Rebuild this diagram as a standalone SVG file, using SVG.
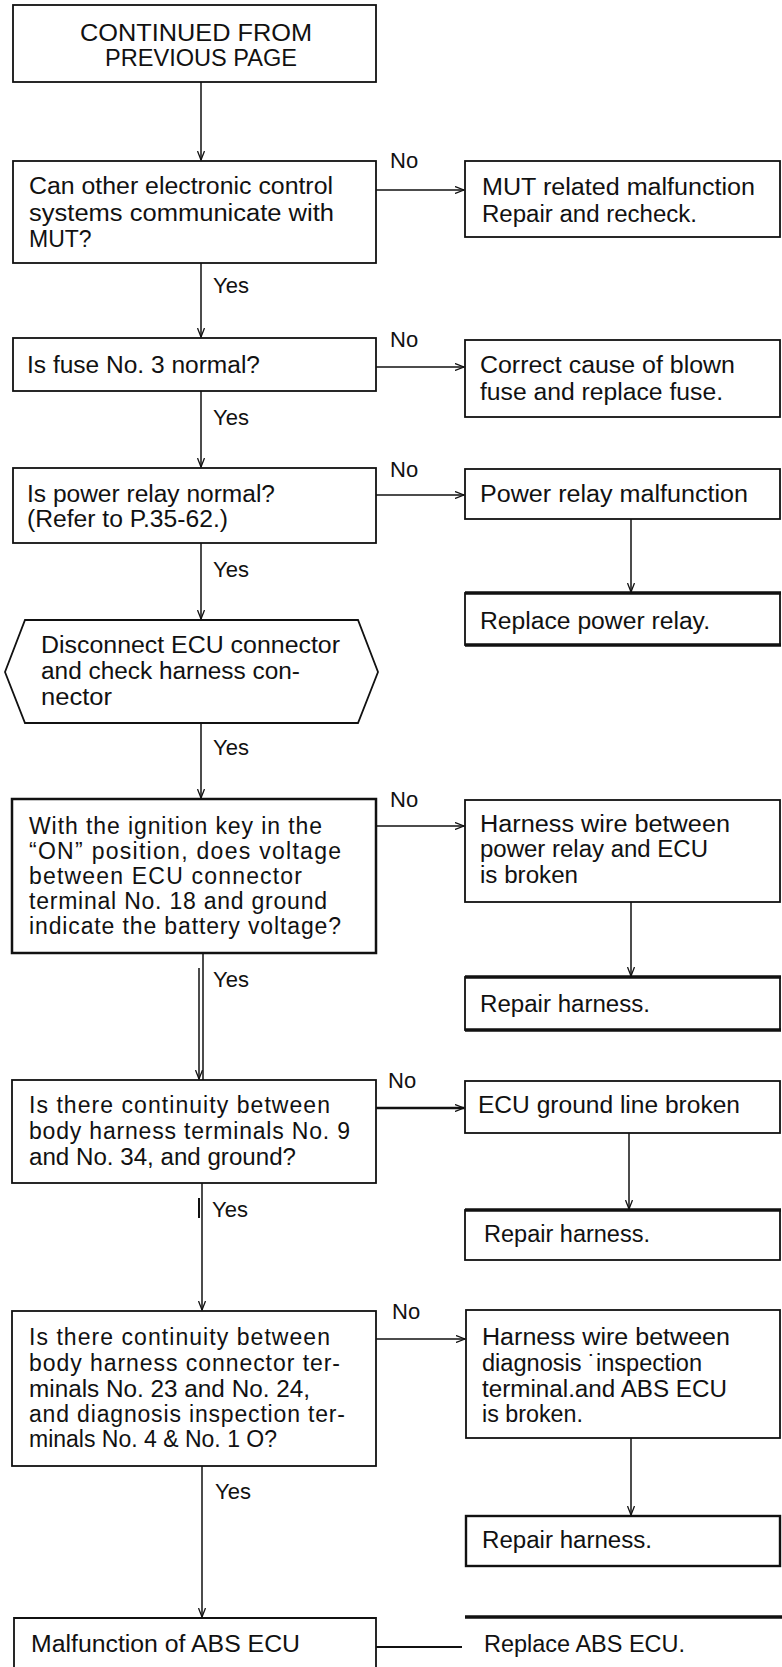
<svg xmlns="http://www.w3.org/2000/svg" width="782" height="1667" viewBox="0 0 782 1667">
<style>
.bg{fill:#fff}
.box{fill:none;stroke:#111;stroke-width:1.8}
.thk{fill:none;stroke:#111;stroke-width:3.5}
.t{font-family:"Liberation Sans",Arial,sans-serif;font-size:23px;fill:#111}
.lb{font-family:"Liberation Sans",Arial,sans-serif;font-size:22px;fill:#111}
.ln{fill:none;stroke:#111;stroke-width:1.5}
.arr{marker-end:url(#ah)}
</style>
<defs>
<marker id="ah" viewBox="0 0 10 8" refX="9.5" refY="4" markerWidth="10" markerHeight="8" markerUnits="userSpaceOnUse" orient="auto">
<path d="M0.5,0.5 L9.5,4 L0.5,7.5" fill="none" stroke="#111" stroke-width="1.3"/>
</marker>
</defs>
<rect class="bg" x="0" y="0" width="782" height="1667"/>

<g id="n-start">
<rect class="box" x="13" y="5" width="363" height="77"/>
<text class="t" x="80" y="41" textLength="232" lengthAdjust="spacingAndGlyphs">CONTINUED FROM</text>
<text class="t" x="105" y="66" textLength="192" lengthAdjust="spacingAndGlyphs">PREVIOUS PAGE</text>
</g>

<g id="n-mut">
<rect class="box" x="13" y="161" width="363" height="102"/>
<text class="t" x="29" y="194" textLength="304" lengthAdjust="spacingAndGlyphs">Can other electronic control</text>
<text class="t" x="29" y="221" textLength="305" lengthAdjust="spacingAndGlyphs">systems communicate with</text>
<text class="t" x="29" y="247">MUT?</text>
</g>

<g id="n-mut-no">
<rect class="box" x="465" y="161" width="315" height="76"/>
<text class="t" x="482" y="195" textLength="273" lengthAdjust="spacingAndGlyphs">MUT related malfunction</text>
<text class="t" x="482" y="222" textLength="215" lengthAdjust="spacingAndGlyphs">Repair and recheck.</text>
</g>

<g id="n-fuse">
<rect class="box" x="13" y="338" width="363" height="53"/>
<text class="t" x="27" y="373" textLength="233" lengthAdjust="spacingAndGlyphs">Is fuse No. 3 normal?</text>
</g>

<g id="n-fuse-no">
<rect class="box" x="465" y="340" width="315" height="77"/>
<text class="t" x="480" y="373" textLength="255" lengthAdjust="spacingAndGlyphs">Correct cause of blown</text>
<text class="t" x="480" y="400" textLength="243" lengthAdjust="spacingAndGlyphs">fuse and replace fuse.</text>
</g>

<g id="n-relay">
<rect class="box" x="13" y="468" width="363" height="75"/>
<text class="t" x="27" y="502" textLength="248" lengthAdjust="spacingAndGlyphs">Is power relay normal?</text>
<text class="t" x="27" y="527" textLength="201" lengthAdjust="spacingAndGlyphs">(Refer to P.35-62.)</text>
</g>

<g id="n-relay-no">
<rect class="box" x="465" y="469" width="315" height="50"/>
<text class="t" x="480" y="502" textLength="268" lengthAdjust="spacingAndGlyphs">Power relay malfunction</text>
</g>

<g id="n-relay-replace">
<rect class="box" x="465" y="593" width="315" height="52"/>
<path class="thk" d="M465,593 H781 M465,645 H781"/>
<text class="t" x="480" y="629" textLength="230" lengthAdjust="spacingAndGlyphs">Replace power relay.</text>
</g>

<g id="n-disconnect">
<polygon class="box" points="5,672 25,620 358,620 378,672 358,723 25,723"/>
<text class="t" x="41" y="653" textLength="299" lengthAdjust="spacingAndGlyphs">Disconnect ECU connector</text>
<text class="t" x="41" y="679" textLength="259" lengthAdjust="spacingAndGlyphs">and check harness con-</text>
<text class="t" x="41" y="705" textLength="71" lengthAdjust="spacingAndGlyphs">nector</text>
</g>

<g id="n-voltage">
<rect class="box" x="12" y="799" width="364" height="154" style="stroke-width:2.5"/>
<text class="t" x="29" y="834" textLength="293" lengthAdjust="spacing">With the ignition key in the</text>
<text class="t" x="29" y="859" textLength="312" lengthAdjust="spacing">“ON” position, does voltage</text>
<text class="t" x="29" y="884" textLength="273" lengthAdjust="spacing">between ECU connector</text>
<text class="t" x="29" y="909" textLength="298" lengthAdjust="spacing">terminal No. 18 and ground</text>
<text class="t" x="29" y="934" textLength="312" lengthAdjust="spacing">indicate the battery voltage?</text>
</g>

<g id="n-voltage-no">
<rect class="box" x="465" y="800" width="315" height="102"/>
<text class="t" x="480" y="832" textLength="250" lengthAdjust="spacingAndGlyphs">Harness wire between</text>
<text class="t" x="480" y="857" textLength="228" lengthAdjust="spacingAndGlyphs">power relay and ECU</text>
<text class="t" x="480" y="883" textLength="98" lengthAdjust="spacingAndGlyphs">is broken</text>
</g>

<g id="n-voltage-repair">
<rect class="box" x="465" y="977" width="315" height="53"/>
<path class="thk" d="M465,977 H781 M465,1030 H781"/>
<text class="t" x="480" y="1012" textLength="170" lengthAdjust="spacingAndGlyphs">Repair harness.</text>
</g>

<g id="n-ground">
<rect class="box" x="12" y="1080" width="364" height="103"/>
<text class="t" x="29" y="1113" textLength="301" lengthAdjust="spacing">Is there continuity between</text>
<text class="t" x="29" y="1139" textLength="321" lengthAdjust="spacing">body harness terminals No. 9</text>
<text class="t" x="29" y="1165" textLength="267" lengthAdjust="spacingAndGlyphs">and No. 34, and ground?</text>
</g>

<g id="n-ground-no">
<rect class="box" x="465" y="1081" width="315" height="52"/>
<text class="t" x="478" y="1113" textLength="262" lengthAdjust="spacingAndGlyphs">ECU ground line broken</text>
</g>

<g id="n-ground-repair">
<rect class="box" x="465" y="1210" width="315" height="50"/>
<path class="thk" d="M465,1210 H781"/>
<text class="t" x="484" y="1242" textLength="166" lengthAdjust="spacingAndGlyphs">Repair harness.</text>
</g>

<g id="n-diag">
<rect class="box" x="12" y="1311" width="364" height="155"/>
<text class="t" x="29" y="1345" textLength="301" lengthAdjust="spacing">Is there continuity between</text>
<text class="t" x="29" y="1371" textLength="311" lengthAdjust="spacing">body harness connector ter-</text>
<text class="t" x="29" y="1397" textLength="281" lengthAdjust="spacingAndGlyphs">minals No. 23 and No. 24,</text>
<text class="t" x="29" y="1422" textLength="316" lengthAdjust="spacing">and diagnosis inspection ter-</text>
<text class="t" x="29" y="1447" textLength="248" lengthAdjust="spacingAndGlyphs">minals No. 4 &amp; No. 1 O?</text>
</g>

<g id="n-diag-no">
<rect class="box" x="466" y="1310" width="314" height="128"/>
<text class="t" x="482" y="1345" textLength="248" lengthAdjust="spacingAndGlyphs">Harness wire between</text>
<text class="t" x="482" y="1371" textLength="220" lengthAdjust="spacingAndGlyphs">diagnosis ˙inspection</text>
<text class="t" x="482" y="1397" textLength="245" lengthAdjust="spacingAndGlyphs">terminal.and ABS ECU</text>
<text class="t" x="482" y="1422" textLength="101" lengthAdjust="spacingAndGlyphs">is broken.</text>
</g>

<g id="n-diag-repair">
<rect class="box" x="466" y="1516" width="314" height="50" style="stroke-width:2.4"/>
<text class="t" x="482" y="1548" textLength="170" lengthAdjust="spacingAndGlyphs">Repair harness.</text>
</g>

<g id="n-ecu">
<path class="box" d="M14,1667 V1618 H376 V1667"/>
<text class="t" x="31" y="1652" textLength="269" lengthAdjust="spacingAndGlyphs">Malfunction of ABS ECU</text>
</g>

<g id="n-ecu-replace">
<path class="thk" d="M465,1617 H782"/>
<text class="t" x="484" y="1652" textLength="201" lengthAdjust="spacingAndGlyphs">Replace ABS ECU.</text>
</g>

<g id="connectors">
<path class="ln arr" d="M201,82 V160"/>
<path class="ln arr" d="M201,263 V337"/>
<path class="ln arr" d="M201,391 V467"/>
<path class="ln arr" d="M201,543 V619"/>
<path class="ln arr" d="M201,723 V798"/>
<path class="ln" d="M203,953 V1080"/>
<path class="ln arr" d="M199,968 V1079"/>
<path class="ln arr" d="M202,1183 V1310"/>
<path class="ln" d="M199,1198 V1218" style="stroke-width:2"/>
<path class="ln arr" d="M202,1466 V1617"/>
<path class="ln" d="M376,1647 H462" style="stroke-width:2"/>
<path class="ln arr" d="M376,190 H464"/>
<path class="ln arr" d="M376,367 H464"/>
<path class="ln arr" d="M376,495 H464"/>
<path class="ln arr" d="M376,826 H464"/>
<path class="ln arr" d="M376,1108 H464" style="stroke-width:2.5"/>
<path class="ln arr" d="M376,1339 H465"/>
<path class="ln arr" d="M631,519 V592"/>
<path class="ln arr" d="M631,902 V976"/>
<path class="ln arr" d="M629,1133 V1209"/>
<path class="ln arr" d="M631,1438 V1515"/>
<text class="lb" x="390" y="168">No</text>
<text class="lb" x="390" y="347">No</text>
<text class="lb" x="390" y="477">No</text>
<text class="lb" x="390" y="807">No</text>
<text class="lb" x="388" y="1088">No</text>
<text class="lb" x="392" y="1319">No</text>
<text class="lb" x="213" y="293">Yes</text>
<text class="lb" x="213" y="425">Yes</text>
<text class="lb" x="213" y="577">Yes</text>
<text class="lb" x="213" y="755">Yes</text>
<text class="lb" x="213" y="987">Yes</text>
<text class="lb" x="212" y="1217">Yes</text>
<text class="lb" x="215" y="1499">Yes</text>
</g>
</svg>
